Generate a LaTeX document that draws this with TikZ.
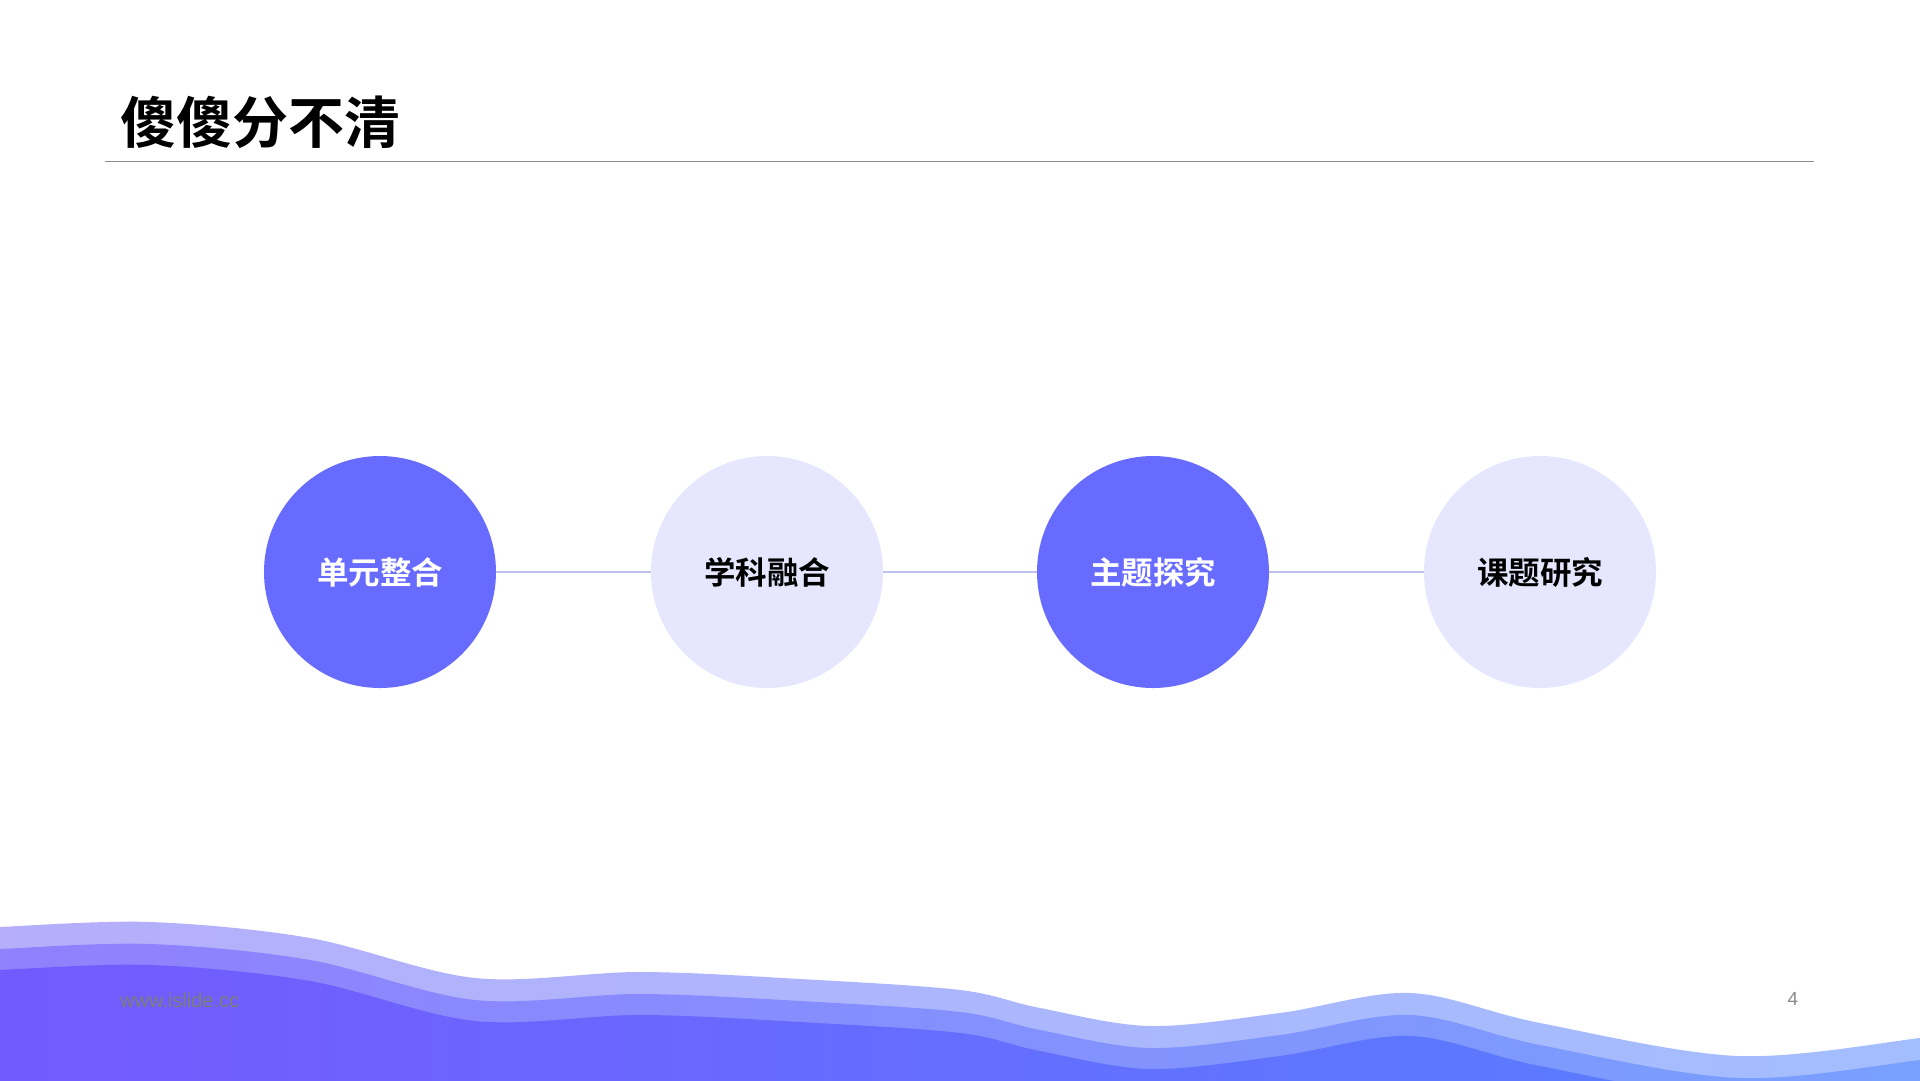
\documentclass[tikz,border=0pt]{standalone}
\usepackage{fontspec}
\newfontfamily\cjk{Noto Sans CJK SC}[BoldFont={Noto Sans CJK SC Bold}]
\newfontfamily\latin{Liberation Sans}
\definecolor{darkc}{HTML}{686BFF}
\definecolor{lightc}{HTML}{E6E6FF}
\definecolor{linkc}{HTML}{C0C0EE}
\definecolor{rulec}{HTML}{8A8A8A}
\definecolor{footc}{HTML}{7E7E74}
\definecolor{wAl}{HTML}{B6AEFB}
\definecolor{wAr}{HTML}{A2BEFF}
\definecolor{wBl}{HTML}{9080FD}
\definecolor{wBr}{HTML}{78A0FF}
\definecolor{wCl}{HTML}{7459FF}
\definecolor{wCm}{HTML}{6670FF}
\definecolor{wCr}{HTML}{5582FF}
\tikzset{
  stagebox/.style={circle, minimum size=232pt, inner sep=0pt, font=\cjk\bfseries\fontsize{31.5}{31.5}\selectfont},
  darkstage/.style={stagebox, fill=darkc, text=white},
  lightstage/.style={stagebox, fill=lightc, text=black},
  link/.style={draw=linkc, line width=1.2pt},
}
\newcommand{\wavepath}{plot[smooth, tension=0.55] coordinates {(-30,930) (0,927) (150,922) (310,938) (475,978) (640,972) (800,979) (960,990) (1040,1008) (1150,1026) (1280,1013) (1410,993) (1540,1023) (1738,1056) (1920,1038) (1960,1031)} -- (1960,1200) -- (-30,1200) -- cycle}
\begin{document}
\begin{tikzpicture}[x=1pt,y=-1pt]
\useasboundingbox (0,0) rectangle (1920,1080);
\fill[white] (0,0) rectangle (1920,1080);
% title
\node[anchor=west, inner sep=0pt, font=\cjk\bfseries\fontsize{56}{56}\selectfont] (title) at (120,122) {傻傻分不清};
\coordinate (ruleL) at (105,161);
\coordinate (ruleR) at (1814,161);
\draw[rulec, line width=1pt] (ruleL) -- (ruleR);
% stages
\node[darkstage] (c1) at (380,572) {单元整合};
\node[lightstage] (c2) at (767,572) {学科融合};
\node[darkstage] (c3) at (1153,572) {主题探究};
\node[lightstage] (c4) at (1540,572) {课题研究};
\draw[link] (c1) -- (c2);
\draw[link] (c2) -- (c3);
\draw[link] (c3) -- (c4);
% waves
\begin{scope}
\clip (0,0) rectangle (1920,1080);
\shade[left color=wAl, right color=wAr] \wavepath;
\begin{scope}[shift={(0,22)}]
\shade[left color=wBl, right color=wBr] \wavepath;
\end{scope}
\begin{scope}[shift={(0,43)}]
\shade[left color=wCl, middle color=wCm, right color=wCr] \wavepath;
\end{scope}
\end{scope}
% footer
\node[anchor=west, inner sep=0pt, text=footc, font=\latin\fontsize{20}{20}\selectfont] (site) at (120,1000) {www.islide.cc};
\node[inner sep=0pt, text=rulec, font=\latin\fontsize{19}{19}\selectfont] (page) at (1793,999) {4};
\end{tikzpicture}
\end{document}
